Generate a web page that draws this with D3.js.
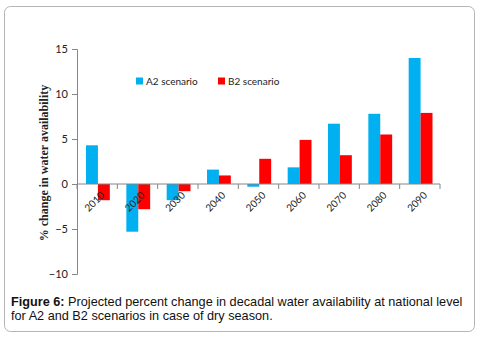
<!DOCTYPE html>
<html>
<head>
<meta charset="utf-8">
<script src="https://cdn.jsdelivr.net/npm/d3@7"></script>
<style>
  body { margin: 0; background: #fff; }
  svg { display: block; }
</style>
</head>
<body>
<div id="chart"></div>
<script>
// decades on the x axis
const decades = ["2010", "2020", "2030", "2040", "2050", "2060", "2070", "2080", "2090"];
// % change, A2 and B2 scenarios
const a2Values = [4.3, -5.3, -1.8, 1.6, -0.3, 1.85, 6.7, 7.8, 14.0];
const b2Values = [-1.8, -2.8, -0.8, 0.95, 2.8, 4.9, 3.2, 5.5, 7.9];
const seriesNames = ["A2 scenario", "B2 scenario"];
const yTicks = [-10, -5, 0, 5, 10, 15];

const width = 479, height = 338;
const colors = ["#00b0f0", "#ff0000"];

const svg = d3.select("#chart").append("svg")
  .attr("width", width)
  .attr("height", height);

// rounded frame round the whole figure
svg.append("rect")
  .attr("x", 4.5).attr("y", 6.5)
  .attr("width", 470).attr("height", 325)
  .attr("rx", 6)
  .attr("fill", "#fff")
  .attr("stroke", "#b5b5b5");

// plot area
const x0 = d3.scaleBand().domain(decades).range([77, 440]);
const x1 = d3.scaleBand().domain(seriesNames).range([9, x0.bandwidth() - 7.5]);
const y = d3.scaleLinear().domain([-10, 15]).range([274, 49]);

const data = decades.map((d, i) => ({ decade: d, values: [a2Values[i], b2Values[i]] }));

const groups = svg.append("g").selectAll("g")
  .data(data)
  .join("g")
  .attr("transform", d => `translate(${x0(d.decade)},0)`);

groups.selectAll("rect")
  .data(d => d.values.map((v, i) => ({ v, name: seriesNames[i], i })))
  .join("rect")
  .attr("x", d => x1(d.name))
  .attr("width", x1.bandwidth())
  .attr("y", d => y(Math.max(0, d.v)))
  .attr("height", d => Math.abs(y(d.v) - y(0)))
  .attr("fill", d => colors[d.i]);

// y axis
const yAxis = svg.append("g")
  .attr("transform", "translate(77,0)")
  .call(d3.axisLeft(y).tickValues(yTicks).tickSize(5).tickPadding(4));
yAxis.select(".domain").attr("stroke", "#868686");
yAxis.selectAll(".tick line").attr("stroke", "#868686");
yAxis.selectAll(".tick text")
  .attr("font-family", "Lato, 'Open Sans', sans-serif")
  .attr("font-size", 11)
  .attr("fill", "#222");

// x axis at zero line, ticks at band boundaries
const xAxisG = svg.append("g").attr("transform", `translate(0,${y(0)})`);
xAxisG.append("line")
  .attr("x1", 77).attr("x2", 440)
  .attr("stroke", "#868686");
xAxisG.selectAll("line.tk")
  .data(decades.concat(["end"]))
  .join("line")
  .attr("class", "tk")
  .attr("x1", (d, i) => 77 + i * x0.step())
  .attr("x2", (d, i) => 77 + i * x0.step())
  .attr("y1", 0).attr("y2", 5)
  .attr("stroke", "#868686");
xAxisG.selectAll("text")
  .data(decades)
  .join("text")
  .attr("transform", d => `translate(${x0(d) + x0.bandwidth() / 2 + 3},${7}) rotate(-45)`)
  .attr("text-anchor", "end")
  .attr("dy", "0.7em")
  .attr("font-family", "Lato, 'Open Sans', sans-serif")
  .attr("font-size", 10)
  .attr("fill", "#222")
  .text(d => d);

// legend
const legend = svg.append("g").selectAll("g")
  .data(seriesNames)
  .join("g")
  .attr("transform", (d, i) => `translate(${136 + i * 82},81)`);
legend.append("rect")
  .attr("x", 0).attr("y", -3.5)
  .attr("width", 7).attr("height", 7)
  .attr("fill", (d, i) => colors[i]);
legend.append("text")
  .attr("x", 10).attr("y", 0)
  .attr("dy", "0.35em")
  .attr("font-family", "Lato, 'Open Sans', sans-serif")
  .attr("font-size", 10)
  .attr("fill", "#222")
  .text(d => d);

// y axis title
svg.append("text")
  .attr("transform", "translate(48,163) rotate(-90)")
  .attr("text-anchor", "middle")
  .attr("font-family", "'Liberation Serif', 'Times New Roman', serif")
  .attr("font-weight", "bold")
  .attr("font-size", 12)
  .attr("fill", "#222")
  .text("% change in water availability");

// caption
const caption = svg.append("text")
  .attr("font-family", "'Liberation Sans', Arial, sans-serif")
  .attr("font-size", 12.7)
  .attr("fill", "#111");
const line1 = caption.append("tspan").attr("x", 11).attr("y", 306);
line1.append("tspan").attr("font-weight", "bold").text("Figure 6:");
line1.append("tspan").text(" Projected percent change in decadal water availability at national level");
caption.append("tspan").attr("x", 11).attr("y", 320)
  .text("for A2 and B2 scenarios in case of dry season.");
</script>
</body>
</html>
